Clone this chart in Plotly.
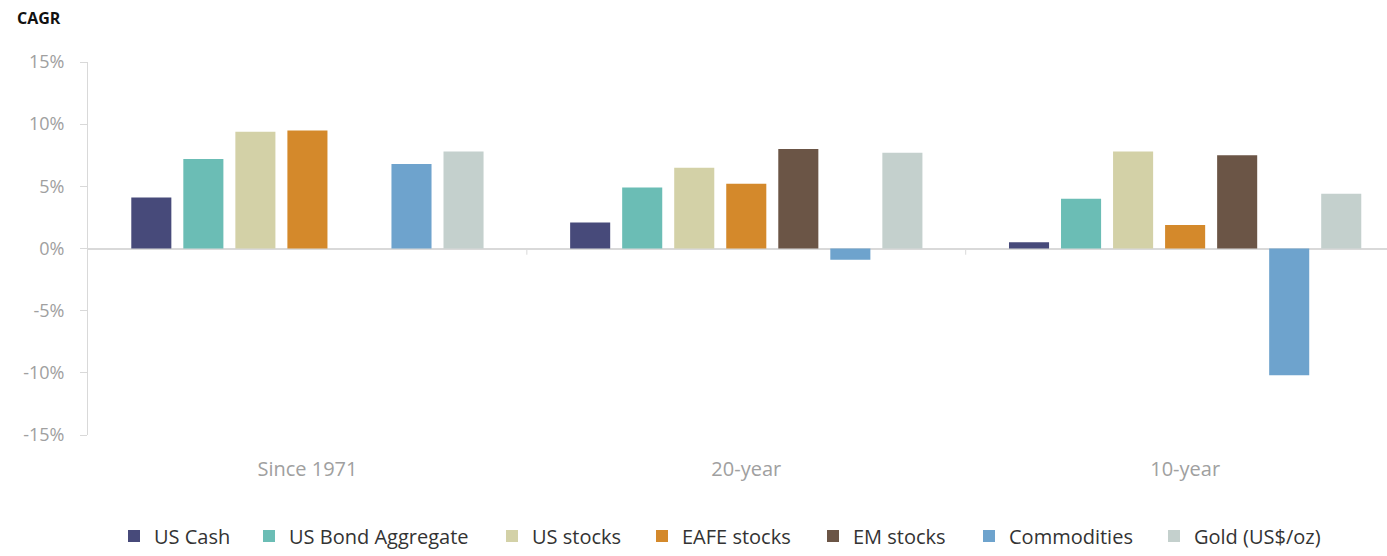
import plotly.graph_objects as go

categories = ["Since 1971", "20-year", "10-year"]
series_names = ["US Cash", "US Bond Aggregate", "US stocks", "EAFE stocks",
                "EM stocks", "Commodities", "Gold (US$/oz)"]
us_cash = [4.1, 2.1, 0.5]
us_bond = [7.2, 4.9, 4.0]
us_stocks = [9.4, 6.5, 7.8]
eafe_stocks = [9.5, 5.2, 1.9]
em_stocks = [None, 8.0, 7.5]
commodities = [6.8, -0.9, -10.2]
gold = [7.8, 7.7, 4.4]
colors = ["#474a7a", "#6bbdb5", "#d3d1a7", "#d4892b", "#6b5546", "#6ea3cd", "#c4d0cd"]

y_tick_values = [-15, -10, -5, 0, 5, 10, 15]
y_tick_labels = ["-15%", "-10%", "-5%", "0%", "5%", "10%", "15%"]

series_values = [us_cash, us_bond, us_stocks, eafe_stocks, em_stocks, commodities, gold]

# layout: pixel geometry
W, H = 1387, 556
ML, MR, MT, MB = 88, 0, 62, 117
PW = W - ML - MR
PH = H - MT - MB
legend_text_px = [152, 287, 530, 680, 851, 1007, 1192]  # left edge of legend text

FONT = "Open Sans"
fig = go.Figure()
legend_layout = {}
for i, (name, vals, col) in enumerate(zip(series_names, series_values, colors)):
    key = "legend" if i == 0 else f"legend{i + 1}"
    fig.add_trace(go.Bar(x=categories, y=vals, name=name, legend=key,
                         marker=dict(color=col, line=dict(width=0))))
    legend_layout[key] = dict(
        orientation="h", x=(legend_text_px[i] - 38 - ML) / PW, xanchor="left",
        y=(H - MB - 541) / PH, yanchor="middle", bgcolor="rgba(0,0,0,0)",
        font=dict(family=FONT, size=20, color="#333333"), itemwidth=30)

fig.update_layout(
    width=W, height=H,
    margin=dict(l=ML, r=MR, t=MT, b=MB),
    plot_bgcolor="white", paper_bgcolor="white",
    barmode="group", bargap=0.17, bargroupgap=0.23,
    font=dict(family=FONT, color="#a0a0a0", size=16),
    showlegend=True,
    xaxis=dict(type="category", range=[-0.5, 2.46], showline=False, ticks="",
               showgrid=False, ticklabelstandoff=20,
               tickfont=dict(family=FONT, size=20, color="#a0a0a0")),
    yaxis=dict(range=[-15, 15], tickvals=y_tick_values, ticktext=y_tick_labels,
               showgrid=False, showline=True, linecolor="#d9d9d9",
               linewidth=1, ticks="outside", ticklen=7, tickcolor="#d9d9d9",
               ticklabelstandoff=12,
               zeroline=True, zerolinecolor="#d9d9d9", zerolinewidth=2,
               tickfont=dict(family=FONT, size=18, color="#a0a0a0")),
    **legend_layout,
)
fig.add_annotation(text="<b>CAGR</b>", xref="paper", yref="paper",
                   x=(15 - ML) / PW, y=(H - MB - 18) / PH, xanchor="left", yanchor="middle",
                   showarrow=False, font=dict(family=FONT, size=16, color="#111111"))
# category separator ticks on the zero line
for b in [0.5, 1.5]:
    fig.add_shape(type="line", xref="x", yref="y", x0=b, x1=b, y0=0, y1=-0.5,
                  line=dict(color="#d9d9d9", width=1))

fig.write_html("out.html")
